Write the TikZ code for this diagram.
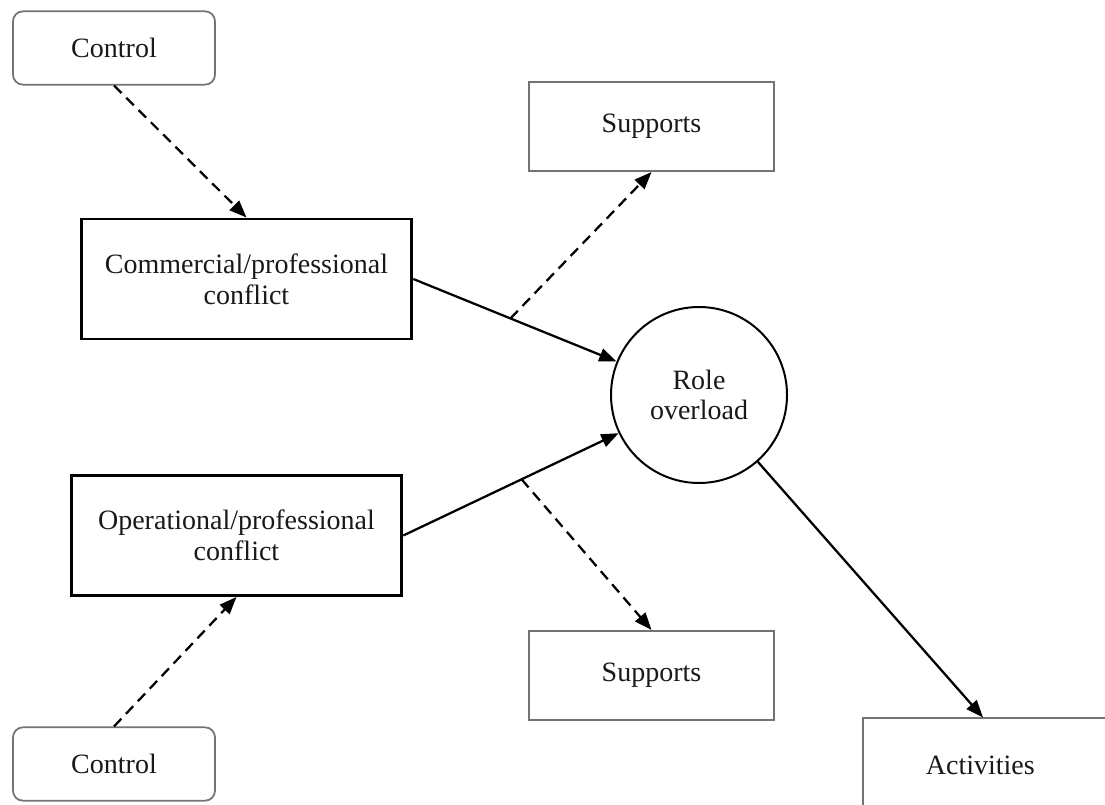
\documentclass[tikz,border=0pt]{standalone}
\usepackage{fontspec}
\setmainfont{Liberation Serif}
\usetikzlibrary{arrows.meta,calc}
\begin{document}
\begin{tikzpicture}[x=0.75pt,y=-0.75pt,
  txt/.style={font=\fontsize{21}{23}\selectfont, align=center, inner sep=0pt, text=black!90},
  softbox/.style={txt, draw=black!55, line width=1.3pt, rectangle},
  ctrlbox/.style={softbox, rounded corners=7.5pt, minimum width=151.5pt, minimum height=55pt},
  suppbox/.style={softbox, minimum width=184pt, minimum height=67pt},
  conflictbox/.style={txt, draw=black, line width=2.2pt, minimum width=248pt, minimum height=90pt},
  rolecircle/.style={txt, draw=black, line width=1.5pt, circle, minimum size=132pt},
  link/.style={line width=1.7pt, -{Triangle[length=13pt,width=10pt]}},
  dashlink/.style={link, dash pattern=on 8pt off 5pt},
]
\useasboundingbox (0,0) rectangle (1105,805);
\clip (0,0) rectangle (1105,805);
\fill[white] (0,0) rectangle (1105,805);

% nodes
\node[ctrlbox] (ctop) at (114,48) {Control};
\node[ctrlbox] (cbot) at (114,764) {Control};
\node[conflictbox] (comm) at (246.5,279) {Commercial/professional\\conflict};
\node[conflictbox] (oper) at (236.5,535.5) {Operational/professional\\conflict};
\node[suppbox] (supT) at (651.5,126.5) {Supports};
\node[suppbox] (supB) at (651.5,675.5) {Supports};
\node[rolecircle] (role) at (699,395) {Role\\overload};
% the activities box runs past the right and bottom edges
\node[softbox, minimum width=195pt, minimum height=70pt,
      label={[txt, xshift=-9.5pt]center:Activities}] (act) at (993,765) {};

% branch points on the conflict links
\coordinate (b1) at ($(comm.east)!0.34!(role.center)$);
\coordinate (b2) at ($(oper.east)!0.40!(role.center)$);

% connectors
\draw[dashlink] (ctop.south) -- (comm.north);
\draw[dashlink] (cbot.north) -- (oper.south);
\draw[link] (comm.east) -- (role);
\draw[link] (oper.east) -- (role);
\draw[dashlink] (b1) -- (supT.south);
\draw[dashlink] (b2) -- (supB.north);
\draw[link] (role) -- ($(act.north)+(-10,0)$);
\end{tikzpicture}
\end{document}
